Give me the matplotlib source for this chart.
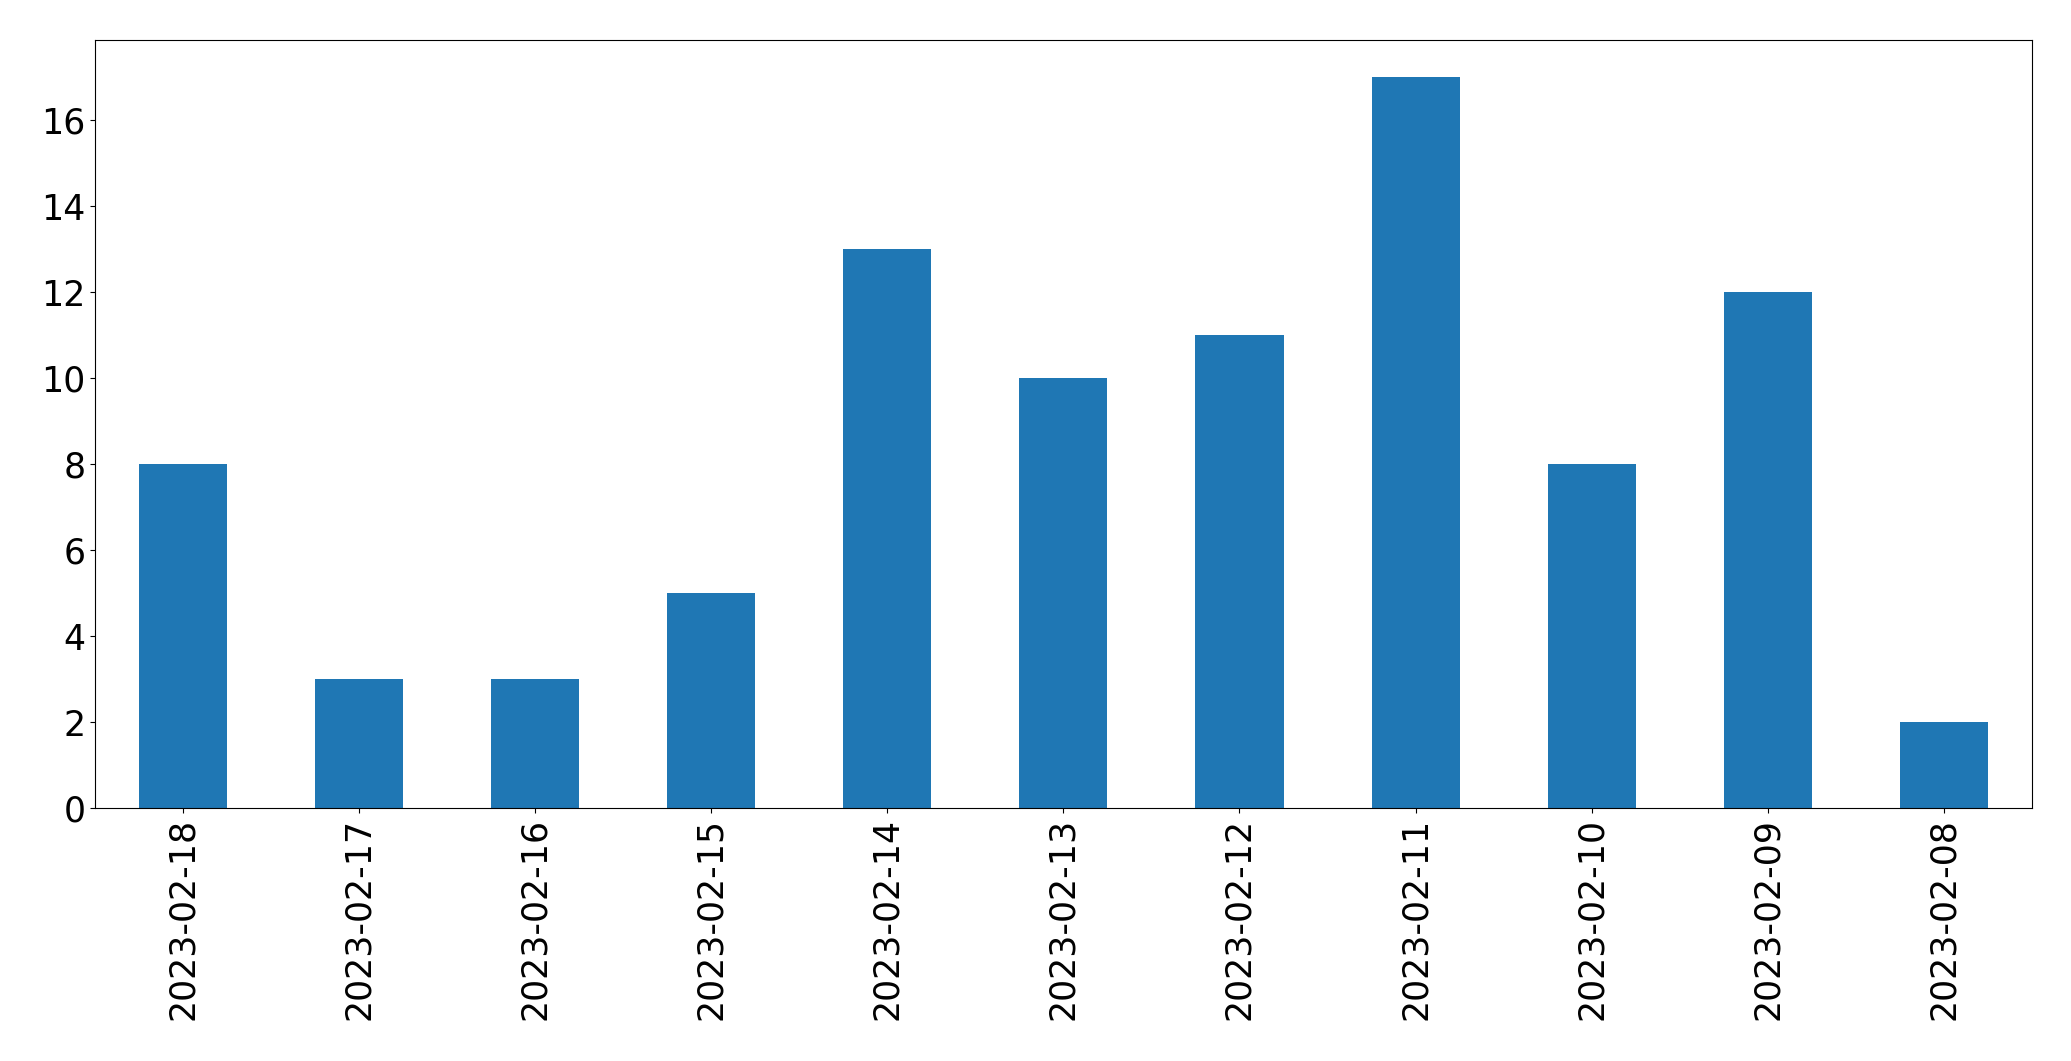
import matplotlib
matplotlib.use('Agg')
import matplotlib.pyplot as plt
import pandas as pd

dates = ['2023-02-18', '2023-02-17', '2023-02-16', '2023-02-15', '2023-02-14', '2023-02-13',
         '2023-02-12', '2023-02-11', '2023-02-10', '2023-02-09', '2023-02-08']
counts = [8, 3, 3, 5, 13, 10, 11, 17, 8, 12, 2]

s = pd.Series(counts, index=dates)

fig = plt.figure(figsize=(20.71, 10.61), dpi=100)
ax = fig.add_axes([0.046, 0.238, 0.935, 0.724])
s.plot(kind='bar', ax=ax, color='#1f77b4')
ax.tick_params(labelsize=25)

fig.savefig('out.png', dpi=100)
